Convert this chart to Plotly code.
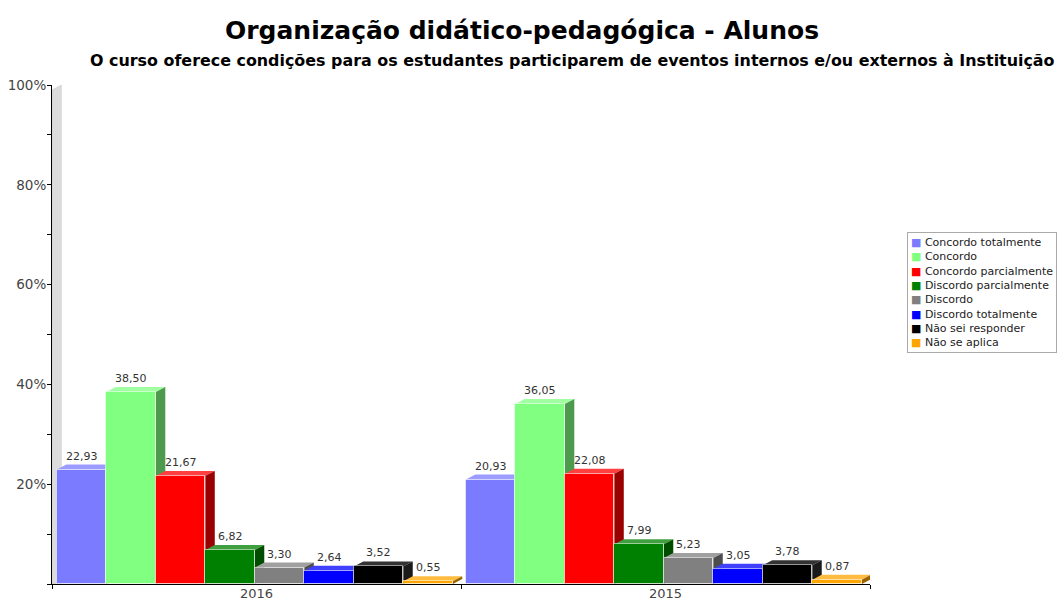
import plotly.graph_objects as go

# dados
categorias = ["Concordo totalmente", "Concordo", "Concordo parcialmente",
              "Discordo parcialmente", "Discordo", "Discordo totalmente",
              "Não sei responder", "Não se aplica"]
anos = ["2016", "2015"]
valores_2016 = [22.93, 38.50, 21.67, 6.82, 3.30, 2.64, 3.52, 0.55]
valores_2015 = [20.93, 36.05, 22.08, 7.99, 5.23, 3.05, 3.78, 0.87]
cores = ["#7B7BFF", "#80FF80", "#FF0000", "#008000",
         "#808080", "#0000FF", "#000000", "#FFA500"]
y_ticks = [20, 40, 60, 80, 100]
y_ticktext = ["20%", "40%", "60%", "80%", "100%"]

W, H = 1061, 600
L, R, T, B = 52, 191, 85, 16
PW, PH = W - L - R, H - T - B

BAR_W = 0.121      # largura de cada barra (unidades do eixo x)
G_OFF = 0.012      # início do grupo
DX, DY = 0.023, 1.0  # profundidade do efeito 3D


def mix(hexc, f, alvo=(0, 0, 0)):
    h = hexc.lstrip("#")
    rgb = [int(h[i:i + 2], 16) for i in (0, 2, 4)]
    out = [round(c + (a - c) * f) for c, a in zip(rgb, alvo)]
    return "rgb(%d,%d,%d)" % tuple(out)


def px_x(p):
    return (p - L) / PW


def px_y(p):
    return (H - B - p) / PH


fig = go.Figure()
shapes = []
annots = []

# parede cinza à esquerda
shapes.append(dict(type="path", xref="x", yref="y", layer="below",
                   path=f"M 0 0 L 0 99 L {DX} 100 L {DX} 0 Z",
                   fillcolor="#dcdcdc", line=dict(color="#c8c8c8", width=0.5)))

valores = [valores_2016, valores_2015]
for k, cat in enumerate(categorias):
    xs = [g + G_OFF + (k + 0.5) * BAR_W for g in range(len(anos))]
    ys = [valores[g][k] for g in range(len(anos))]
    fig.add_trace(go.Bar(
        x=xs, y=ys, width=BAR_W, name=cat,
        marker=dict(color=cores[k], line=dict(color="rgba(255,255,255,0.55)", width=1)),
        showlegend=False, hovertemplate=cat + ": %{y:.2f}<extra></extra>"))
    for x, v in zip(xs, ys):
        x0, x1 = x - BAR_W / 2, x + BAR_W / 2
        # face superior
        shapes.append(dict(type="path", xref="x", yref="y", layer="below",
                           path=f"M {x0} {v} L {x1} {v} L {x1 + DX} {v + DY} L {x0 + DX} {v + DY} Z",
                           fillcolor=mix(cores[k], 0.25, (255, 255, 255)) if cores[k] != "#000000" else "#333333",
                           line=dict(width=0)))
        # face lateral
        shapes.append(dict(type="path", xref="x", yref="y", layer="below",
                           path=f"M {x1} 0 L {x1 + DX} {DY} L {x1 + DX} {v + DY} L {x1} {v} Z",
                           fillcolor=mix(cores[k], 0.4) if cores[k] != "#000000" else "#1a1a1a",
                           line=dict(width=0)))
        annots.append(dict(x=x, y=v + DY, xref="x", yref="y", showarrow=False,
                           text=f"{v:.2f}".replace(".", ","), yanchor="bottom",
                           font=dict(family="DejaVu Sans", size=11, color="#333333")))

# títulos
annots.append(dict(x=px_x(522), y=px_y(31), xref="paper", yref="paper", showarrow=False,
                   text="<b>Organização didático-pedagógica - Alunos</b>", xanchor="center", yanchor="middle",
                   font=dict(family="DejaVu Sans", size=25, color="#000000")))
annots.append(dict(x=px_x(1057), y=px_y(61), xref="paper", yref="paper", showarrow=False,
                   text="<b>O curso oferece condições para os estudantes participarem de eventos internos e/ou externos à Instituição</b>",
                   xanchor="right", yanchor="middle",
                   font=dict(family="DejaVu Sans", size=15.9, color="#000000")))

# legenda manual
leg = "<br>".join(f"<span style='color:{c}'>■</span> {n}" for n, c in zip(categorias, cores))
annots.append(dict(x=px_x(907), y=px_y(232), xref="paper", yref="paper", showarrow=False,
                   text=leg, align="left", xanchor="left", yanchor="top",
                   bgcolor="white", bordercolor="#aaaaaa", borderwidth=1, borderpad=3,
                   font=dict(family="DejaVu Sans", size=11, color="#222222")))

fig.update_layout(
    width=W, height=H,
    margin=dict(l=L, r=R, t=T, b=B),
    plot_bgcolor="white", paper_bgcolor="white",
    barmode="overlay", bargap=0,
    shapes=shapes, annotations=annots,
    xaxis=dict(range=[0, 2], tickvals=[0.5, 1.5], ticktext=anos, ticks="outside", ticklen=0,
               showgrid=False, zeroline=False, showline=True, linecolor="#000000", linewidth=1,
               tickfont=dict(family="DejaVu Sans", size=13, color="#444444"), automargin=False,
               ticklabelstandoff=-3,
               minor=dict(tick0=0, dtick=1, ticks="outside", ticklen=4, tickcolor="#000000")),
    yaxis=dict(range=[0, 100], tickvals=y_ticks, ticktext=y_ticktext, ticks="outside", ticklen=4,
               tickcolor="#000000", showgrid=False, zeroline=False, showline=True,
               linecolor="#000000", linewidth=1, automargin=False, ticklabelstandoff=-2,
               tickfont=dict(family="DejaVu Sans", size=13.5, color="#444444"),
               minor=dict(tick0=0, dtick=10, ticks="outside", ticklen=4, tickcolor="#000000")),
)

fig.write_html("out.html", config={"displayModeBar": False},
               post_script="document.body.style.margin='0';")
